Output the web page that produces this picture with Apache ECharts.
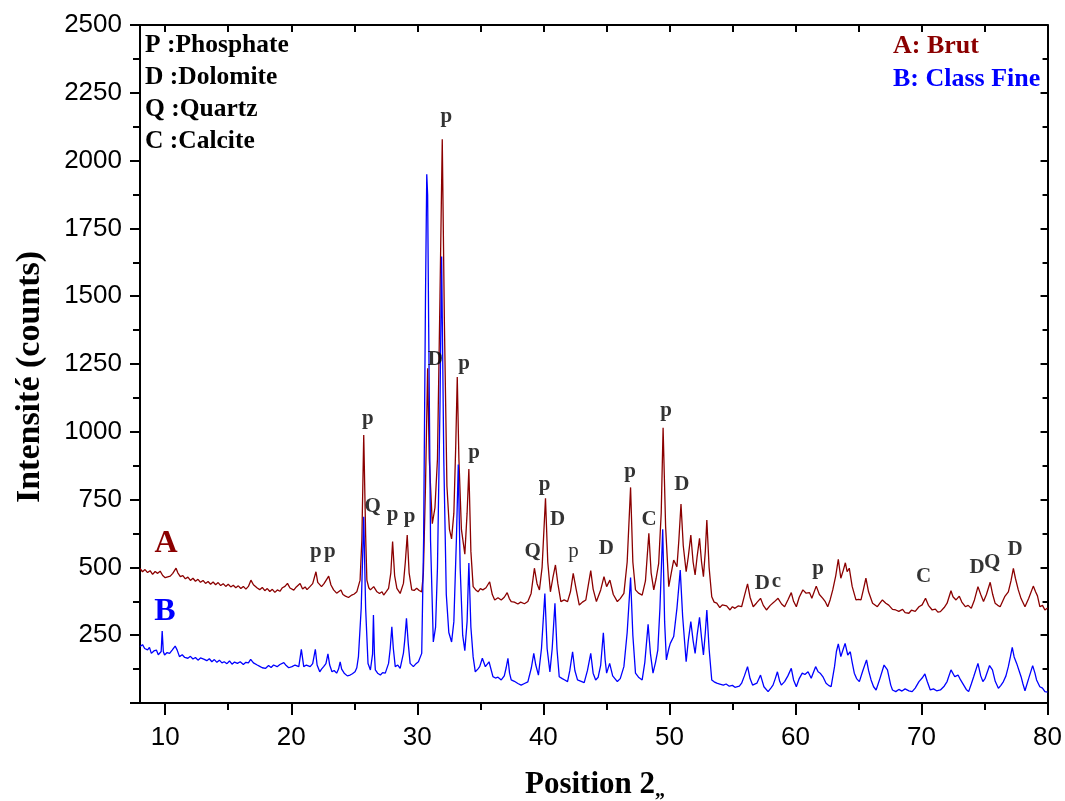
<!DOCTYPE html>
<html>
<head>
<meta charset="utf-8">
<script src="https://cdn.jsdelivr.net/npm/echarts@6/dist/echarts.min.js"></script>
<style>html,body{margin:0;padding:0;background:#fff}#c{width:1065px;height:801px}</style>
</head>
<body>
<div id="c"></div>
<script>
// A: Brut  [2θ, counts]
const brutData = [
[8.0,496],[8.2,484],[8.4,492],[8.6,481],[8.8,488],[9.0,474],[9.2,485],[9.4,478],[9.6,486],[9.8,470],
[10.0,462],[10.15,456],[10.4,468],[10.6,478],[10.86,497],[11.0,480],[11.2,466],[11.4,470],[11.6,458],[11.8,464],
[12.0,452],[12.2,460],[12.4,449],[12.6,456],[12.8,445],[13.0,452],[13.2,441],[13.4,448],[13.6,438],[13.8,446],
[14.0,436],[14.2,444],[14.4,433],[14.6,440],[14.8,430],[15.0,438],[15.2,428],[15.4,434],[15.6,425],[15.8,432],
[16.0,422],[16.2,430],[16.4,420],[16.6,430],[16.8,453],[17.0,436],[17.3,424],[17.5,418],[17.7,426],[17.9,414],
[18.1,422],[18.3,411],[18.5,419],[18.7,408],[18.9,417],[19.1,412],[19.3,425],[19.5,430],[19.7,441],[19.9,424],
[20.2,416],[20.4,428],[20.7,441],[20.9,420],[21.1,428],[21.25,418],[21.5,430],[21.7,440],[21.96,484],[22.1,445],
[22.4,429],[22.6,440],[22.97,468],[23.15,435],[23.36,417],[23.6,405],[23.94,417],[24.1,400],[24.3,394],[24.54,389],
[24.8,398],[25.0,402],[25.2,410],[25.46,453],[25.6,600],[25.75,988],[25.9,620],[26.0,453],[26.15,425],[26.28,417],
[26.54,429],[26.8,410],[27.0,404],[27.2,410],[27.33,398],[27.55,412],[27.72,423],[27.9,480],[28.04,595],[28.2,470],
[28.38,423],[28.64,404],[28.9,441],[29.05,520],[29.2,619],[29.35,480],[29.56,417],[29.75,415],[29.95,423],[30.15,415],
[30.35,410],[30.48,478],[30.65,800],[30.82,1234],[30.95,900],[31.19,661],[31.4,720],[31.6,900],[31.8,1500],[31.98,2079],
[32.15,1400],[32.35,800],[32.55,640],[32.72,605],[32.9,700],[33.05,950],[33.17,1202],[33.3,900],[33.5,640],[33.77,549],
[33.95,700],[34.09,863],[34.25,560],[34.43,429],[34.62,418],[34.82,410],[35.0,422],[35.2,417],[35.45,425],[35.74,447],
[35.95,400],[36.14,380],[36.4,388],[36.66,380],[36.9,390],[37.13,407],[37.3,385],[37.45,374],[37.7,372],[37.98,365],
[38.2,372],[38.5,366],[38.77,374],[39.03,404],[39.29,497],[39.5,440],[39.69,417],[39.9,500],[40.17,755],[40.35,520],
[40.56,410],[40.75,460],[40.96,509],[41.15,440],[41.39,374],[41.65,380],[41.92,374],[42.15,410],[42.37,478],[42.6,420],
[42.85,361],[43.1,372],[43.37,380],[43.55,430],[43.76,488],[43.95,420],[44.21,374],[44.55,417],[44.81,466],[45.02,429],
[45.28,453],[45.55,400],[45.87,374],[46.1,385],[46.39,404],[46.65,520],[46.92,795],[47.1,520],[47.31,417],[47.55,405],
[47.84,398],[48.1,450],[48.37,626],[48.55,480],[48.76,417],[48.95,460],[49.15,515],[49.35,700],[49.5,1015],[49.7,650],
[49.95,429],[50.15,480],[50.34,527],[50.6,503],[50.75,600],[50.92,734],[51.1,580],[51.33,484],[51.5,540],[51.7,619],
[51.88,520],[52.04,472],[52.2,540],[52.39,607],[52.55,520],[52.7,466],[52.85,560],[52.97,675],[53.15,500],[53.36,392],
[53.55,372],[53.76,368],[54.0,352],[54.2,362],[54.54,358],[54.81,343],[55.0,355],[55.2,349],[55.45,358],[55.73,355],
[55.95,395],[56.2,439],[56.4,390],[56.65,355],[56.9,368],[57.23,386],[57.45,360],[57.7,343],[58.0,360],[58.3,372],
[58.62,386],[58.9,365],[59.14,355],[59.4,380],[59.67,407],[59.85,375],[60.07,355],[60.3,390],[60.59,417],[60.85,405],
[61.12,407],[61.3,386],[61.65,431],[61.9,400],[62.17,386],[62.35,375],[62.56,355],[62.75,380],[62.96,417],[63.2,470],
[63.4,530],[63.6,460],[63.8,490],[63.96,517],[64.1,484],[64.27,497],[64.5,430],[64.8,380],[65.0,382],[65.2,380],
[65.4,420],[65.59,460],[65.8,410],[66.12,368],[66.5,355],[66.7,368],[66.9,380],[67.17,368],[67.4,361],[67.7,345],
[67.96,343],[68.2,338],[68.5,345],[68.7,333],[69.0,331],[69.2,342],[69.5,338],[69.8,355],[70.05,362],[70.32,386],
[70.55,360],[70.85,343],[71.1,346],[71.3,335],[71.5,337],[71.8,352],[72.03,368],[72.34,414],[72.5,392],[72.74,380],
[73.0,394],[73.2,372],[73.48,355],[73.7,360],[73.95,349],[74.2,380],[74.48,429],[74.7,400],[74.92,374],[75.15,400],
[75.45,445],[75.65,400],[75.84,368],[76.05,360],[76.24,355],[76.6,392],[76.89,410],[77.1,450],[77.29,496],[77.45,460],
[77.68,417],[77.9,385],[78.21,355],[78.5,385],[78.87,431],[79.05,410],[79.2,395],[79.39,355],[79.6,360],[79.79,343],[80.0,350]
];
// B: Class Fine  [2θ, counts]
const fineData = [
[8.0,208],[8.2,215],[8.37,201],[8.6,196],[8.75,205],[8.9,183],[9.1,192],[9.3,195],[9.45,178],[9.55,183],
[9.68,190],[9.76,265],[9.85,190],[9.95,177],[10.15,186],[10.35,183],[10.55,195],[10.79,210],[10.95,195],[11.13,171],
[11.35,178],[11.55,168],[11.8,165],[12.0,172],[12.2,162],[12.4,168],[12.6,158],[12.8,166],[13.1,161],[13.3,156],
[13.5,163],[13.7,152],[13.9,160],[14.1,150],[14.3,158],[14.5,148],[14.68,152],[14.9,145],[15.1,155],[15.3,143],
[15.5,151],[15.73,146],[15.95,152],[16.2,142],[16.4,150],[16.6,148],[16.78,161],[17.0,148],[17.3,140],[17.5,135],
[17.7,130],[17.97,128],[18.2,138],[18.4,131],[18.6,140],[18.88,134],[19.1,142],[19.41,149],[19.6,138],[19.8,130],
[20.06,134],[20.3,140],[20.6,134],[20.8,198],[20.99,134],[21.2,140],[21.5,134],[21.7,145],[21.91,198],[22.05,140],
[22.26,115],[22.4,125],[22.57,134],[22.75,145],[22.91,181],[23.05,140],[23.23,115],[23.4,120],[23.6,110],[23.75,125],
[23.88,152],[24.0,125],[24.2,110],[24.45,100],[24.67,103],[24.85,108],[25.06,115],[25.2,130],[25.33,171],[25.55,350],
[25.75,687],[25.9,350],[26.09,146],[26.28,122],[26.45,180],[26.52,324],[26.6,180],[26.67,122],[26.85,110],[27.07,103],
[27.25,112],[27.46,110],[27.72,146],[27.85,200],[27.98,281],[28.1,200],[28.25,134],[28.45,140],[28.64,128],[28.9,184],
[29.0,230],[29.14,312],[29.28,220],[29.43,146],[29.69,134],[29.9,145],[30.09,152],[30.35,183],[30.5,600],[30.65,1500],
[30.75,1950],[30.82,1873],[30.9,1400],[31.05,600],[31.27,225],[31.45,280],[31.6,500],[31.8,1100],[31.93,1646],[32.1,900],
[32.3,400],[32.5,260],[32.72,225],[32.9,300],[33.1,600],[33.25,879],[33.4,500],[33.6,250],[33.77,193],[33.95,300],
[34.09,516],[34.25,280],[34.43,170],[34.6,115],[34.8,125],[34.95,134],[35.16,165],[35.4,134],[35.55,140],[35.69,152],
[36.0,97],[36.2,92],[36.4,95],[36.66,85],[36.9,100],[37.05,130],[37.19,165],[37.32,110],[37.45,85],[37.7,80],
[37.98,72],[38.24,66],[38.5,72],[38.77,78],[38.9,85],[39.05,130],[39.24,183],[39.4,140],[39.61,103],[39.85,200],
[40.12,404],[40.3,200],[40.52,115],[40.7,200],[40.92,368],[41.08,200],[41.26,97],[41.5,90],[41.7,85],[41.92,79],
[42.1,120],[42.32,189],[42.5,120],[42.71,85],[43.0,80],[43.24,75],[43.5,120],[43.76,183],[43.95,110],[44.15,85],
[44.35,95],[44.55,140],[44.76,259],[44.9,160],[45.02,110],[45.26,146],[45.5,100],[45.87,79],[46.1,90],[46.39,134],
[46.65,260],[46.92,463],[47.1,250],[47.31,110],[47.55,95],[47.84,85],[48.05,150],[48.31,290],[48.5,180],[48.7,110],
[48.9,150],[49.08,195],[49.25,350],[49.47,641],[49.62,300],[49.76,159],[49.95,200],[50.07,220],[50.2,215],[50.34,245],
[50.6,350],[50.86,490],[51.05,320],[51.33,152],[51.5,230],[51.7,300],[51.88,230],[52.04,183],[52.2,250],[52.39,316],
[52.55,240],[52.7,177],[52.85,260],[52.97,343],[53.15,200],[53.36,85],[53.55,78],[53.76,73],[54.0,70],[54.28,66],
[54.5,70],[54.75,62],[55.0,65],[55.2,58],[55.33,54],[55.55,62],[55.73,73],[55.95,100],[56.2,134],[56.4,90],
[56.6,66],[56.94,73],[57.23,103],[57.5,60],[57.83,42],[58.05,55],[58.22,66],[58.4,90],[58.57,115],[58.75,80],
[58.88,66],[59.14,79],[59.4,100],[59.67,128],[59.85,85],[60.07,60],[60.3,90],[60.54,110],[60.75,105],[61.0,115],
[61.25,91],[61.6,134],[61.8,115],[61.96,110],[62.2,95],[62.43,73],[62.63,65],[62.83,60],[63.1,134],[63.25,190],
[63.4,218],[63.6,171],[63.8,200],[63.94,220],[64.15,177],[64.35,189],[64.5,150],[64.67,110],[64.85,90],[65.07,79],
[65.35,120],[65.64,159],[65.8,120],[66.0,85],[66.2,60],[66.4,48],[66.7,90],[67.03,140],[67.17,134],[67.3,122],
[67.56,66],[67.7,48],[67.96,42],[68.2,50],[68.45,44],[68.7,52],[69.0,45],[69.26,42],[69.5,55],[69.8,79],
[70.05,92],[70.27,107],[70.45,80],[70.7,48],[70.95,52],[71.2,45],[71.5,48],[71.8,62],[72.03,79],[72.34,122],
[72.64,97],[72.9,103],[73.1,85],[73.35,66],[73.55,50],[73.74,42],[73.95,70],[74.14,97],[74.48,146],[74.7,100],
[74.87,79],[75.05,91],[75.4,138],[75.63,122],[75.85,80],[76.1,54],[76.3,65],[76.5,79],[76.7,100],[76.89,134],
[77.05,170],[77.2,205],[77.35,170],[77.55,146],[77.9,97],[78.05,70],[78.21,45],[78.5,90],[78.82,138],[79.0,110],
[79.13,85],[79.39,60],[79.6,55],[79.79,42],[80.0,40]
];
// Peak annotations [2θ, counts, text, bold]
const peakLabels = [
[21.96,557,'p',1],[23.07,557,'p',1],[26.07,1047,'p',1],[26.46,723,'Q',1],[28.04,693,'p',1],[29.38,686,'p',1],
[31.43,1265,'D',1],[32.3,2161,'p',1],[33.72,1250,'p',1],[34.5,925,'p',1],[39.16,560,'Q',1],[40.1,804,'p',1],
[41.13,675,'D',1],[42.4,557,'p',0],[45.0,571,'D',1],[46.89,852,'p',1],[48.39,678,'C',1],[49.73,1077,'p',1],
[50.99,807,'D',1],[57.38,442,'D',1],[58.49,446,'c',1],[61.8,494,'p',1],[70.16,468,'C',1],[74.42,498,'D',1],
[75.6,516,'Q',1],[77.42,564,'D',1]
];
const xMajorTicks = [10,20,30,40,50,60,70,80];
const xMinorTicks = [15,25,35,45,55,65,75];
const xTopTicks = [10,15,20,25,30,35,40,45,50,55,60,65,70,75];
const phaseKey = ['P :Phosphate','D :Dolomite','Q :Quartz','C :Calcite'];
const seriesKey = ['A: Brut','B: Class Fine'];

const BROWN = '#8B0000', BLUE = '#0000FF';
const serif = '"Liberation Serif","Times New Roman",serif';
const sans = '"Liberation Sans",Arial,sans-serif';

const chart = echarts.init(document.getElementById('c'), null, {renderer:'canvas'});
const axBase = {type:'value', min:8, max:80, gridIndex:0};
chart.setOption({
  animation:false,
  backgroundColor:'#fff',
  grid:{left:140, right:14, top:25, bottom:98, containLabel:false},
  xAxis:[
    Object.assign({}, axBase, {position:'bottom',
      axisLine:{show:true, onZero:false, lineStyle:{color:'#000', width:2}},
      axisTick:{show:true, inside:false, length:12, lineStyle:{color:'#000', width:2}, customValues:xMajorTicks},
      axisLabel:{show:true, margin:22, fontSize:26, fontFamily:sans, color:'#000', customValues:xMajorTicks},
      splitLine:{show:false}}),
    Object.assign({}, axBase, {position:'bottom',
      axisLine:{show:false, onZero:false},
      axisTick:{show:true, inside:false, length:7, lineStyle:{color:'#000', width:2}, customValues:xMinorTicks},
      axisLabel:{show:false}, splitLine:{show:false}}),
    Object.assign({}, axBase, {position:'top',
      axisLine:{show:true, onZero:false, lineStyle:{color:'#000', width:2}},
      axisTick:{show:true, inside:true, length:7, lineStyle:{color:'#000', width:2}, customValues:xTopTicks},
      axisLabel:{show:false}, splitLine:{show:false}})
  ],
  yAxis:[
    {type:'value', min:0, max:2500, interval:250, position:'left',
      axisLine:{show:true, onZero:false, lineStyle:{color:'#000', width:2}},
      axisTick:{show:true, inside:false, length:10, lineStyle:{color:'#000', width:2}},
      minorTick:{show:true, splitNumber:2, length:7, lineStyle:{color:'#000', width:2}},
      axisLabel:{show:true, margin:18, fontSize:26, fontFamily:sans, color:'#000',
        formatter:v => v === 0 ? '' : String(v)},
      splitLine:{show:false}},
    {type:'value', min:0, max:2500, interval:250, position:'right',
      axisLine:{show:true, onZero:false, lineStyle:{color:'#000', width:2}},
      axisTick:{show:true, inside:true, length:7, lineStyle:{color:'#000', width:2}},
      minorTick:{show:true, splitNumber:2, length:5, lineStyle:{color:'#000', width:2}},
      axisLabel:{show:false}, splitLine:{show:false}}
  ],
  series:[
    {name:'A', type:'line', data:brutData, showSymbol:false, symbol:'none',
      lineStyle:{color:BROWN, width:1.3}, itemStyle:{color:BROWN}, z:2},
    {name:'B', type:'line', data:fineData, showSymbol:false, symbol:'none',
      lineStyle:{color:BLUE, width:1.3}, itemStyle:{color:BLUE}, z:3},
    {name:'labels', type:'scatter', symbolSize:1, itemStyle:{color:'rgba(0,0,0,0)'}, z:5,
      data:peakLabels.map(d => ({value:[d[0], d[1]], name:d[2],
        label:{show:true, position:'inside', formatter:d[2], fontFamily:serif, fontSize:21,
          fontWeight:d[3] ? 'bold' : 'normal', color:'#000'}})),
      silent:true}
  ],
  graphic:[
    {type:'text', left:145, top:30, style:{text:phaseKey.join('\n'), font:'bold 25.5px '+serif, fill:'#000', lineHeight:31.7}},
    {type:'text', left:893, top:33, style:{text:seriesKey[0], font:'bold 26px '+serif, fill:BROWN}},
    {type:'text', left:893, top:66, style:{text:seriesKey[1], font:'bold 26px '+serif, fill:BLUE}},
    {type:'text', x:166, y:544, style:{text:'A', font:'bold 32px '+serif, fill:BROWN, align:'center', verticalAlign:'middle'}},
    {type:'text', x:165, y:612, style:{text:'B', font:'bold 32px '+serif, fill:BLUE, align:'center', verticalAlign:'middle'}},
    {type:'text', x:30, y:377, rotation:Math.PI/2, style:{text:'Intensité (counts)', font:'bold 34px '+serif, fill:'#000', align:'center', verticalAlign:'middle'}},
    {type:'text', x:595, y:785, style:{text:'Position 2{s|„}', fill:'#000', align:'center', verticalAlign:'middle',
      font:'bold 31px '+serif, rich:{s:{font:'bold 20px '+serif, fill:'#000', verticalAlign:'bottom'}}}}
  ]
});
</script>
</body>
</html>
